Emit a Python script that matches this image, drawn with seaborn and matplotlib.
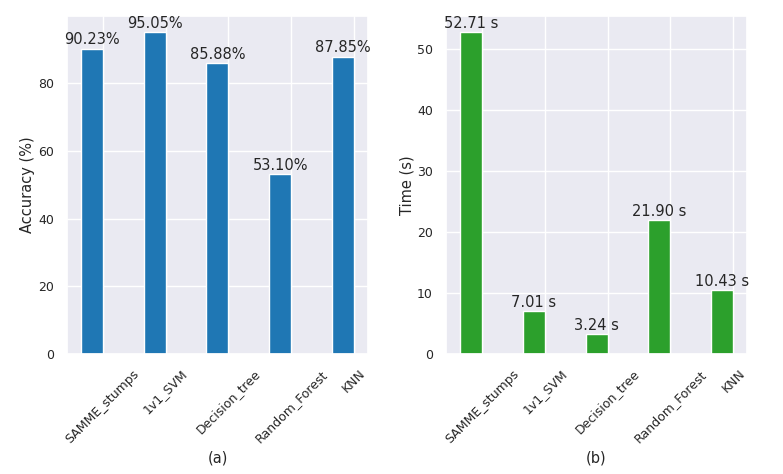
import numpy as np
import matplotlib
matplotlib.use("Agg")
import matplotlib.pyplot as plt
import seaborn as sns

# ─── Data ───────────────────────────────────────────────────────────────────────
models = ["SAMME_stumps", "1v1_SVM", "Decision_tree", "Random_Forest", "KNN"]
accuracy = [90.23, 95.05, 85.88, 53.10, 87.85]
times = [52.71, 7.01, 3.24, 21.90, 10.43]

width = 0.35
x = np.arange(len(models))

sns.set_theme(style="darkgrid")
plt.rcParams["font.family"] = ["DejaVu Sans"]

fig, axes = plt.subplots(1, 2, figsize=(7.83, 4.74), dpi=100)
fig.subplots_adjust(left=0.0856, right=0.954, bottom=0.253, top=0.966, wspace=0.26)


def draw_panel(ax, values, color, labels, ylabel, xlabel):
    sns.barplot(x=x - width / 2, y=values, native_scale=True, width=width,
                color=color, saturation=1, ax=ax)
    ax.bar_label(ax.containers[0], labels=labels, padding=1, fontsize=10.5)
    ax.set_xticks(x)
    ax.set_xticklabels(models, rotation=45, fontsize=9)
    ax.tick_params(axis="y", labelsize=9)
    ax.set_xlim(-0.5675, 4.2175)
    ax.set_ylim(0, max(values) * 1.05)
    ax.set_ylabel(ylabel, fontsize=10.5, labelpad=2)
    ax.set_xlabel(xlabel, fontsize=10.5, labelpad=3)


draw_panel(axes[0], accuracy, "#1f77b4", [f"{v:.2f}%" for v in accuracy],
           "Accuracy (%)", "(a)")
draw_panel(axes[1], times, "#2ca02c", [f"{v:.2f} s" for v in times],
           "Time (s)", "(b)")

fig.savefig("out.png", dpi=100)
